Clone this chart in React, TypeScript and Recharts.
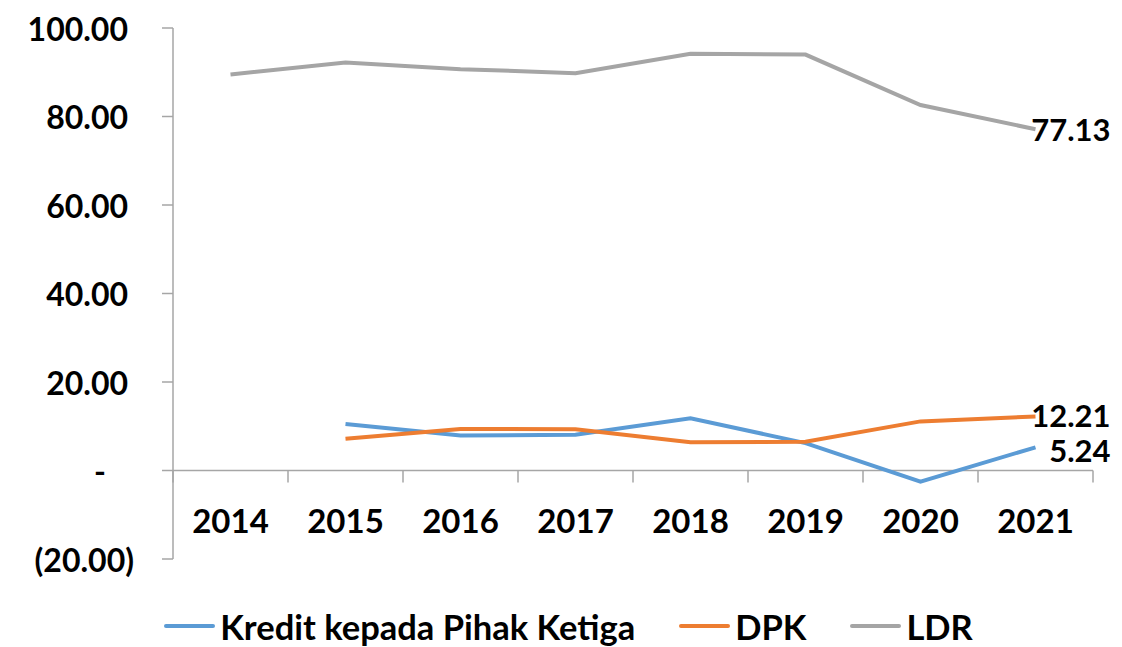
import { LineChart, Line, XAxis, YAxis, ReferenceLine, Legend, LabelList } from "recharts";

const YEARS = ["2014", "2015", "2016", "2017", "2018", "2019", "2020", "2021"];
const KREDIT = [null, 10.5, 7.9, 8.1, 11.8, 6.2, -2.5, 5.24];
const DPK = [null, 7.2, 9.4, 9.3, 6.4, 6.5, 11.1, 12.21];
const LDR = [89.5, 92.2, 90.7, 89.8, 94.2, 94.0, 82.6, 77.13];
const Y_TICKS = [-20, 0, 20, 40, 60, 80, 100];
const SERIES_ORDER = ["Kredit kepada Pihak Ketiga", "DPK", "LDR"];

const data = YEARS.map((year, i) => ({ year, kredit: KREDIT[i], dpk: DPK[i], ldr: LDR[i] }));

// layout
const W = 1122;
const H = 647;
const MARGIN = { top: 28, right: 29, left: 0, bottom: 0 };
const Y_W = 173;
const X_H = 40;
const LEGEND_H = 48;
const PLOT_W = W - Y_W - MARGIN.right;
const PLOT_H = H - MARGIN.top - X_H - LEGEND_H;
const Y_MIN = -20;
const Y_MAX = 100;
const ZERO_OFFSET = (PLOT_H * (0 - Y_MIN)) / (Y_MAX - Y_MIN);
const BAND = PLOT_W / YEARS.length;

const FONT = "Lato, 'Open Sans', sans-serif";
const WEIGHT = 700;
const AXIS = "#A6A6A6";
const COLORS = { kredit: "#5B9BD5", dpk: "#ED7D31", ldr: "#A5A5A5" };

const XTick = (props: any) => {
  const { x, y, payload, index } = props;
  const zeroY = y - ZERO_OFFSET;
  const half = BAND / 2;
  return (
    <g>
      <line x1={x - half} x2={x - half} y1={zeroY} y2={zeroY + 12} stroke={AXIS} strokeWidth={1.5} />
      {index === YEARS.length - 1 && (
        <line x1={x + half} x2={x + half} y1={zeroY} y2={zeroY + 12} stroke={AXIS} strokeWidth={1.5} />
      )}
      <text
        x={x}
        y={zeroY + 49}
        textAnchor="middle"
        dominantBaseline="central"
        fontFamily={FONT}
        fontWeight={WEIGHT}
        fontSize={33}
        fill="#000"
      >
        {payload.value}
      </text>
    </g>
  );
};

const YTick = (props: any) => {
  const { x, y, payload } = props;
  const v = payload.value as number;
  const label = v === 0 ? "-" : v < 0 ? `(${Math.abs(v).toFixed(2)})` : v.toFixed(2);
  const dx = v === 0 ? -22 : v < 0 ? 6 : 0;
  return (
    <text
      x={x + dx}
      y={y}
      textAnchor="end"
      dominantBaseline="central"
      fontFamily={FONT}
      fontWeight={WEIGHT}
      fontSize={32}
      fill="#000"
    >
      {label}
    </text>
  );
};

const endLabel = (dy: number) => (props: any) => {
  const { x, y, value, index } = props;
  if (index !== YEARS.length - 1) return null;
  return (
    <text
      x={x + 75}
      y={y + dy}
      textAnchor="end"
      dominantBaseline="central"
      fontFamily={FONT}
      fontWeight={WEIGHT}
      fontSize={31}
      fill="#000"
    >
      {(value as number).toFixed(2)}
    </text>
  );
};

const LegendContent = (props: any) => {
  const items = [...(props.payload || [])].sort(
    (a: any, b: any) => SERIES_ORDER.indexOf(a.value) - SERIES_ORDER.indexOf(b.value)
  );
  return (
    <div
      style={{
        height: LEGEND_H,
        boxSizing: "border-box",
        paddingTop: 6,
        paddingLeft: 44,
        display: "flex",
        justifyContent: "center",
        alignItems: "center",
        fontFamily: FONT,
        fontWeight: WEIGHT,
        fontSize: 34.5,
        color: "#000",
        gap: 44,
      }}
    >
      {items.map((p: any) => (
        <div key={p.value} style={{ display: "flex", alignItems: "center" }}>
          <div style={{ width: 51, height: 4, borderRadius: 2, background: p.color, marginRight: 5 }} />
          <span>{p.value}</span>
        </div>
      ))}
    </div>
  );
};

export default function App() {
  return (
    <div style={{ position: "absolute", left: 0, top: 0, width: W, height: H, background: "#fff" }}>
      <LineChart width={W} height={H} data={data} margin={MARGIN}>
        <XAxis
          dataKey="year"
          scale="band"
          height={X_H}
          axisLine={false}
          tickLine={false}
          tickSize={0}
          tickMargin={0}
          interval={0}
          tick={<XTick />}
        />
        <YAxis
          width={Y_W}
          domain={[Y_MIN, Y_MAX]}
          ticks={Y_TICKS}
          interval={0}
          axisLine={{ stroke: AXIS, strokeWidth: 1.5 }}
          tickLine={{ stroke: AXIS, strokeWidth: 1.5 }}
          tickSize={11}
          tickMargin={34}
          tick={<YTick />}
        />
        <ReferenceLine y={0} stroke={AXIS} strokeWidth={1.5} />
        <Legend verticalAlign="bottom" height={LEGEND_H} content={<LegendContent />} />
        <Line
          name="Kredit kepada Pihak Ketiga"
          dataKey="kredit"
          stroke={COLORS.kredit}
          strokeWidth={4}
          dot={false}
          activeDot={false}
          isAnimationActive={false}
        >
          <LabelList dataKey="kredit" content={endLabel(3)} />
        </Line>
        <Line
          name="DPK"
          dataKey="dpk"
          stroke={COLORS.dpk}
          strokeWidth={4}
          dot={false}
          activeDot={false}
          isAnimationActive={false}
        >
          <LabelList dataKey="dpk" content={endLabel(-1)} />
        </Line>
        <Line
          name="LDR"
          dataKey="ldr"
          stroke={COLORS.ldr}
          strokeWidth={4}
          dot={false}
          activeDot={false}
          isAnimationActive={false}
        >
          <LabelList dataKey="ldr" content={endLabel(0)} />
        </Line>
      </LineChart>
    </div>
  );
}
